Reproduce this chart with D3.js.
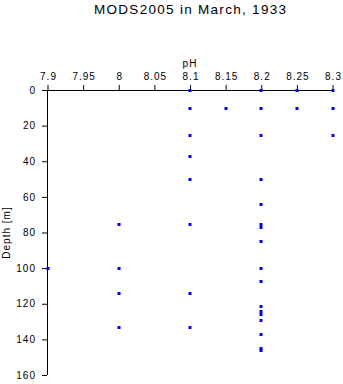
<!DOCTYPE html>
<html>
<head>
<meta charset="utf-8">
<script src="https://cdn.jsdelivr.net/npm/d3@7"></script>
<style>
  html, body { margin: 0; padding: 0; background: #fff; }
  svg { display: block; }
  text { font-family: "Liberation Sans", Arial, sans-serif; fill: #000; }
</style>
</head>
<body>
<svg id="chart" width="343" height="384"></svg>
<script>
// pH profile values (pH, depth in metres)
const phValues = [
  7.9,
  8.0, 8.0, 8.0, 8.0,
  8.1, 8.1, 8.1, 8.1, 8.1, 8.1, 8.1, 8.1,
  8.15,
  8.2, 8.2, 8.2, 8.2, 8.2, 8.2, 8.2, 8.2, 8.2, 8.2, 8.2, 8.2, 8.2, 8.2, 8.2, 8.2, 8.2,
  8.25, 8.25,
  8.3, 8.3, 8.3
];
const depthValues = [
  100,
  75, 100, 114, 133,
  0, 10, 25, 37, 50, 75, 114, 133,
  10,
  0, 10, 25, 50, 64, 75, 77, 85, 100, 107, 121, 124, 126, 129, 137, 145, 146,
  0, 10,
  0, 10, 25
];
const phTicks = [7.9, 7.95, 8.0, 8.05, 8.1, 8.15, 8.2, 8.25, 8.3];
const depthTicks = [0, 20, 40, 60, 80, 100, 120, 140, 160];
const titleText = "MODS2005 in March, 1933";
const xLabel = "pH";
const yLabel = "Depth [m]";

const svg = d3.select("#chart");
const plotLeft = 47.5, plotRight = 332.5, plotTop = 90, plotBottom = 375;

const x = d3.scaleLinear().domain([7.9, 8.3]).range([plotLeft, plotRight]);
const y = d3.scaleLinear().domain([0, 160]).range([plotTop, plotBottom]);

// title
svg.append("text")
  .attr("x", (plotLeft + plotRight) / 2)
  .attr("y", 14)
  .attr("text-anchor", "middle")
  .attr("font-size", 13.5)
  .attr("textLength", 192)
  .attr("lengthAdjust", "spacing")
  .text(titleText);

// pH axis along the top
const xAxis = d3.axisTop(x)
  .tickValues(phTicks)
  .tickFormat(d => String(+d.toFixed(2)))
  .tickSize(5)
  .tickSizeOuter(0)
  .tickPadding(5);

const gx = svg.append("g")
  .attr("transform", `translate(0,${plotTop})`)
  .call(xAxis);
gx.select(".domain").attr("stroke", "#000").attr("d", `M${plotLeft},0.5H${plotRight}`);
gx.selectAll(".tick line").attr("stroke", "#000");
gx.selectAll(".tick text")
  .attr("font-size", 10)
  .attr("letter-spacing", 1)
  .attr("dx", 0.5)
  .style("font-family", "Liberation Sans, Arial, sans-serif");

svg.append("text")
  .attr("x", 190)
  .attr("y", 67)
  .attr("text-anchor", "middle")
  .attr("font-size", 10)
  .attr("letter-spacing", 1)
  .text(xLabel);

// depth axis on the left
const yAxis = d3.axisLeft(y)
  .tickValues(depthTicks)
  .tickSize(5)
  .tickSizeOuter(0)
  .tickPadding(7);

const gy = svg.append("g")
  .attr("transform", `translate(${plotLeft - 0.5},0)`)
  .call(yAxis);
gy.select(".domain").attr("stroke", "#000").attr("d", `M0.5,${plotTop}V${plotBottom}`);
gy.selectAll(".tick line").attr("stroke", "#000");
gy.selectAll(".tick text")
  .attr("font-size", 10)
  .attr("letter-spacing", 1)
  .attr("dx", 1)
  .style("font-family", "Liberation Sans, Arial, sans-serif");

svg.append("text")
  .attr("transform", `translate(9.5,${(plotTop + plotBottom) / 2}) rotate(-90)`)
  .attr("text-anchor", "middle")
  .attr("font-size", 10)
  .attr("letter-spacing", 1)
  .text(yLabel);

// observation markers
const pts = phValues.map((p, i) => ({ ph: p, depth: depthValues[i] }));
svg.append("g")
  .selectAll("rect")
  .data(pts)
  .join("rect")
  .attr("x", d => Math.round(x(d.ph)) - 1.5)
  .attr("y", d => Math.round(y(d.depth)) - 1)
  .attr("width", 3)
  .attr("height", 3)
  .attr("fill", "#0000ff");
</script>
</body>
</html>
